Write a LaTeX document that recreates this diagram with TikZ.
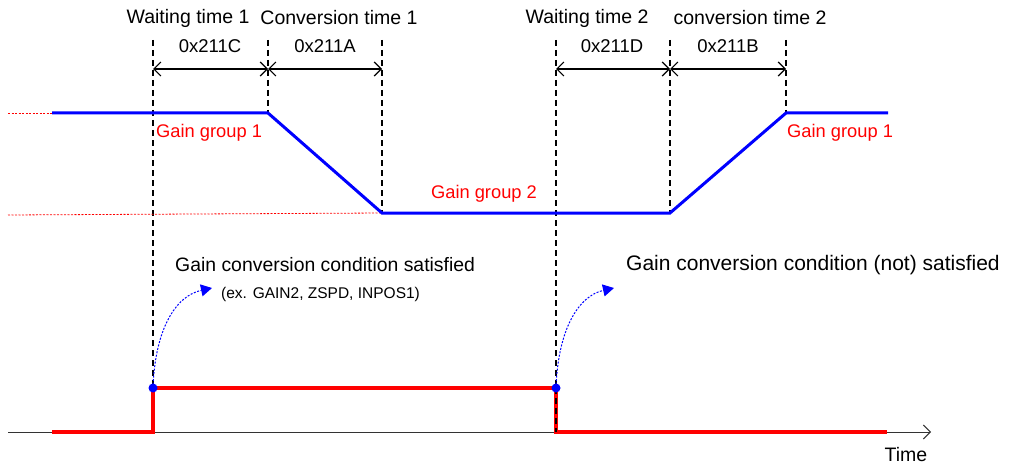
\documentclass[tikz,border=0pt]{standalone}
\usepackage{fontspec}
\setmainfont{Liberation Sans}
\usetikzlibrary{arrows.meta}
\definecolor{gred}{RGB}{255,0,0}
\definecolor{gblue}{RGB}{0,0,255}
\tikzset{
  vdash/.style={black, line width=1.6pt, dash pattern=on 6pt off 4pt},
  dimarrow/.style={black, line width=1.2pt, {Straight Barb[length=7pt,width=14pt]}-{Straight Barb[length=7pt,width=14pt]}},
  title/.style={font=\fontsize{19.5}{22}\selectfont, inner sep=0pt},
  reg/.style={font=\fontsize{18.5}{22}\selectfont, inner sep=0pt},
  gain/.style={font=\fontsize{18.3}{20}\selectfont, text=gred, inner sep=0pt},
  cond/.style={font=\fontsize{19.4}{22}\selectfont, inner sep=0pt, anchor=west},
  bluewave/.style={gblue, line width=3pt, line join=miter},
  redwave/.style={gred, line width=3.5pt, line join=miter},
  guide/.style={gred, line width=0.8pt, dash pattern=on 2pt off 1.5pt},
  curvearrow/.style={gblue, line width=1pt, dash pattern=on 2pt off 1.5pt, -{Triangle[length=11pt,width=12pt]}},
  dot/.style={circle, fill=gblue, inner sep=0pt, minimum size=9pt},
}
\begin{document}
\begin{tikzpicture}[x=1pt,y=-1pt]
\useasboundingbox (0,0) rectangle (1011,468);
% key coordinates
\coordinate (a1) at (153,40);
\coordinate (a2) at (268,40);
\coordinate (a3) at (382,40);
\coordinate (a4) at (556,40);
\coordinate (a5) at (670,40);
\coordinate (a6) at (786,40);
\coordinate (b1) at (153,432);
\coordinate (b2) at (268,113);
\coordinate (b3) at (382,213);
\coordinate (b4) at (556,432);
\coordinate (b5) at (670,213);
\coordinate (b6) at (786,113);
% dashed verticals
\draw[vdash] (a1) -- (b1);
\draw[vdash] (a2) -- (b2);
\draw[vdash] (a3) -- (b3);
\draw[vdash] (a4) -- (b4);
\draw[vdash] (a5) -- (b5);
\draw[vdash] (a6) -- (b6);
% dimension arrows
\coordinate (d1) at (153,69);
\coordinate (d2) at (268,69);
\coordinate (d3) at (382,69);
\coordinate (d4) at (556,69);
\coordinate (d5) at (670,69);
\coordinate (d6) at (786,69);
\draw[dimarrow] (d1) -- (d2);
\draw[dimarrow] (d2) -- (d3);
\draw[dimarrow] (d4) -- (d5);
\draw[dimarrow] (d5) -- (d6);
% titles
\node[title] (w1) at (188,18) {Waiting time 1};
\node[title] (c1) at (339,18) {Conversion time 1};
\node[title] (w2) at (587,18) {Waiting time 2};
\node[title] (c2) at (750,18) {conversion time 2};
\node[reg] (p1) at (210,46) {0x211C};
\node[reg] (p2) at (325,46) {0x211A};
\node[reg] (p3) at (612,46) {0x211D};
\node[reg] (p4) at (728,46) {0x211B};
% guide lines
\coordinate (g0) at (8,113);
\coordinate (g1) at (52,113);
\coordinate (g2) at (8,215);
\draw[guide] (g0) -- (g1);
\draw[guide] (g2) -- (b3);
% blue gain waveform
\coordinate (e1) at (888,113);
\draw[bluewave] (g1) -- (b2) -- (b3) -- (b5) -- (b6) -- (e1);
% gain labels
\node[gain, anchor=west] (gg1) at (156,133) {Gain group 1};
\node[gain] (gg2) at (484,194) {Gain group 2};
\node[gain, anchor=west] (gg3) at (787,133) {Gain group 1};
% condition texts
\node[cond] (t1) at (175,265) {Gain conversion condition satisfied};
\node[cond, font=\fontsize{15.5}{18}\selectfont] (t2) at (221,294) {(ex. GAIN2, ZSPD, INPOS1)};
\node[cond, font=\fontsize{21}{24}\selectfont] (t3) at (626,265) {Gain conversion condition (not) satisfied};
% axis
\coordinate (x0) at (8,432);
\coordinate (x1) at (931,432);
\draw[black!80, line width=1pt, -{Straight Barb[length=7pt,width=14pt]}] (x0) -- (x1);
\node[reg, font=\fontsize{19.5}{22}\selectfont] (tm) at (906,455) {Time};
% red signal
\coordinate (r0) at (52,432);
\coordinate (r1) at (153,388);
\coordinate (r2) at (556,388);
\coordinate (r3) at (887,432);
\draw[redwave] (r0) -- (b1) -- (r1) -- (r2) -- (b4) -- (r3);
\draw[black, line width=1.4pt, dash pattern=on 6pt off 4pt] (r2) -- (b4);
% curved arrows
\coordinate (q1) at (212,288);
\coordinate (q2) at (614,288);
\draw[curvearrow] (r1) .. controls (155,330) and (175,296) .. (q1);
\draw[curvearrow] (r2) .. controls (558,330) and (578,296) .. (q2);
% dots
\node[dot] (n1) at (r1) {};
\node[dot] (n2) at (r2) {};
\end{tikzpicture}
\end{document}
